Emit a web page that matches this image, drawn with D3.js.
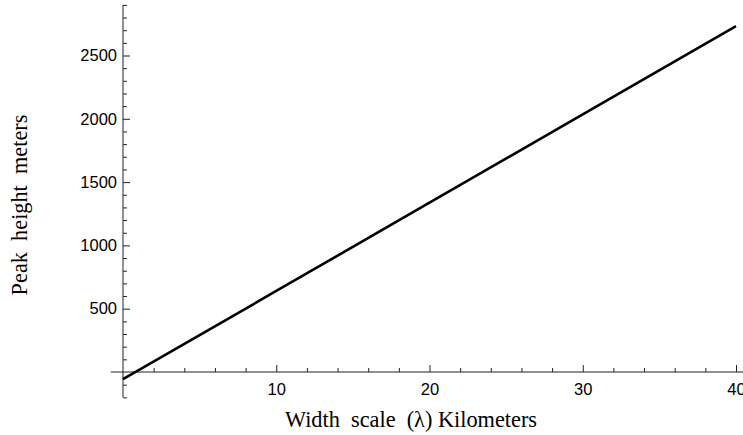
<!DOCTYPE html>
<html>
<head>
<meta charset="utf-8">
<script src="https://cdn.jsdelivr.net/npm/d3@7"></script>
<style>
  html, body { margin: 0; padding: 0; background: #fff; }
  svg { display: block; }
  .tick text { font-family: "Liberation Sans", Arial, sans-serif; font-size: 16.5px; fill: #000; }
  .title { font-family: "Liberation Serif", "Times New Roman", serif; font-size: 22.3px; fill: #000; white-space: pre; }
</style>
</head>
<body>
<svg id="chart" width="743" height="435"></svg>
<script>
// Peak height versus width scale
const widthKm = [0, 10, 20, 30, 40];
const peakHeightM = [-57, 640, 1337, 2035, 2732];

const xMajorTicks = [10, 20, 30, 40];
const yMajorTicks = [500, 1000, 1500, 2000, 2500];
const xMinorTicks = d3.range(2, 41, 2).filter(v => v % 10 !== 0);
const yMinorTicks = d3.range(-200, 2901, 100).filter(v => v % 500 !== 0);
const xAxisExtent = [-0.8, 40.5];
const yAxisExtent = [-200, 2900];

const xTitle = "Width  scale  (\u03BB) Kilometers";
const yTitle = "Peak  height  meters";

const svg = d3.select("#chart");

const x = d3.scaleLinear().domain([0, 40]).range([123, 736]);
const y = d3.scaleLinear().domain([0, 2500]).range([372, 55.5]);

const axisColor = "#222";

// Axis lines cross at the origin
svg.append("line")
  .attr("x1", x(xAxisExtent[0])).attr("x2", x(xAxisExtent[1]))
  .attr("y1", y(0)).attr("y2", y(0))
  .attr("stroke", axisColor).attr("stroke-width", 1);
svg.append("line")
  .attr("x1", x(0)).attr("x2", x(0))
  .attr("y1", y(yAxisExtent[0])).attr("y2", y(yAxisExtent[1]))
  .attr("stroke", axisColor).attr("stroke-width", 1);

// Minor ticks (inward, unlabeled)
svg.append("g")
  .attr("transform", `translate(0,${y(0)})`)
  .call(d3.axisBottom(x).tickValues(xMinorTicks).tickSize(-4).tickFormat(""))
  .call(g => g.select(".domain").remove());
svg.append("g")
  .attr("transform", `translate(${x(0)},0)`)
  .call(d3.axisLeft(y).tickValues(yMinorTicks).tickSize(-4).tickFormat(""))
  .call(g => g.select(".domain").remove());

// Major ticks with labels
svg.append("g")
  .attr("transform", `translate(0,${y(0)})`)
  .call(d3.axisBottom(x).tickValues(xMajorTicks).tickSize(-7).tickPadding(11).tickFormat(d3.format("d")))
  .call(g => g.select(".domain").remove());
svg.append("g")
  .attr("transform", `translate(${x(0)},0)`)
  .call(d3.axisLeft(y).tickValues(yMajorTicks).tickSize(-7).tickPadding(6).tickFormat(d3.format("d")))
  .call(g => g.select(".domain").remove());

svg.selectAll(".tick line").attr("stroke", axisColor).attr("stroke-width", 1);

// Curve
const line = d3.line().x((d, i) => x(widthKm[i])).y(d => y(d));
svg.append("path")
  .datum(peakHeightM)
  .attr("d", line)
  .attr("fill", "none")
  .attr("stroke", "#000")
  .attr("stroke-width", 2.6);

// Axis titles
svg.append("text")
  .attr("class", "title")
  .attr("x", 411).attr("y", 427)
  .attr("text-anchor", "middle")
  .text(xTitle);
svg.append("text")
  .attr("class", "title")
  .attr("transform", "translate(27,205) rotate(-90)")
  .attr("text-anchor", "middle")
  .text(yTitle);
</script>
</body>
</html>
